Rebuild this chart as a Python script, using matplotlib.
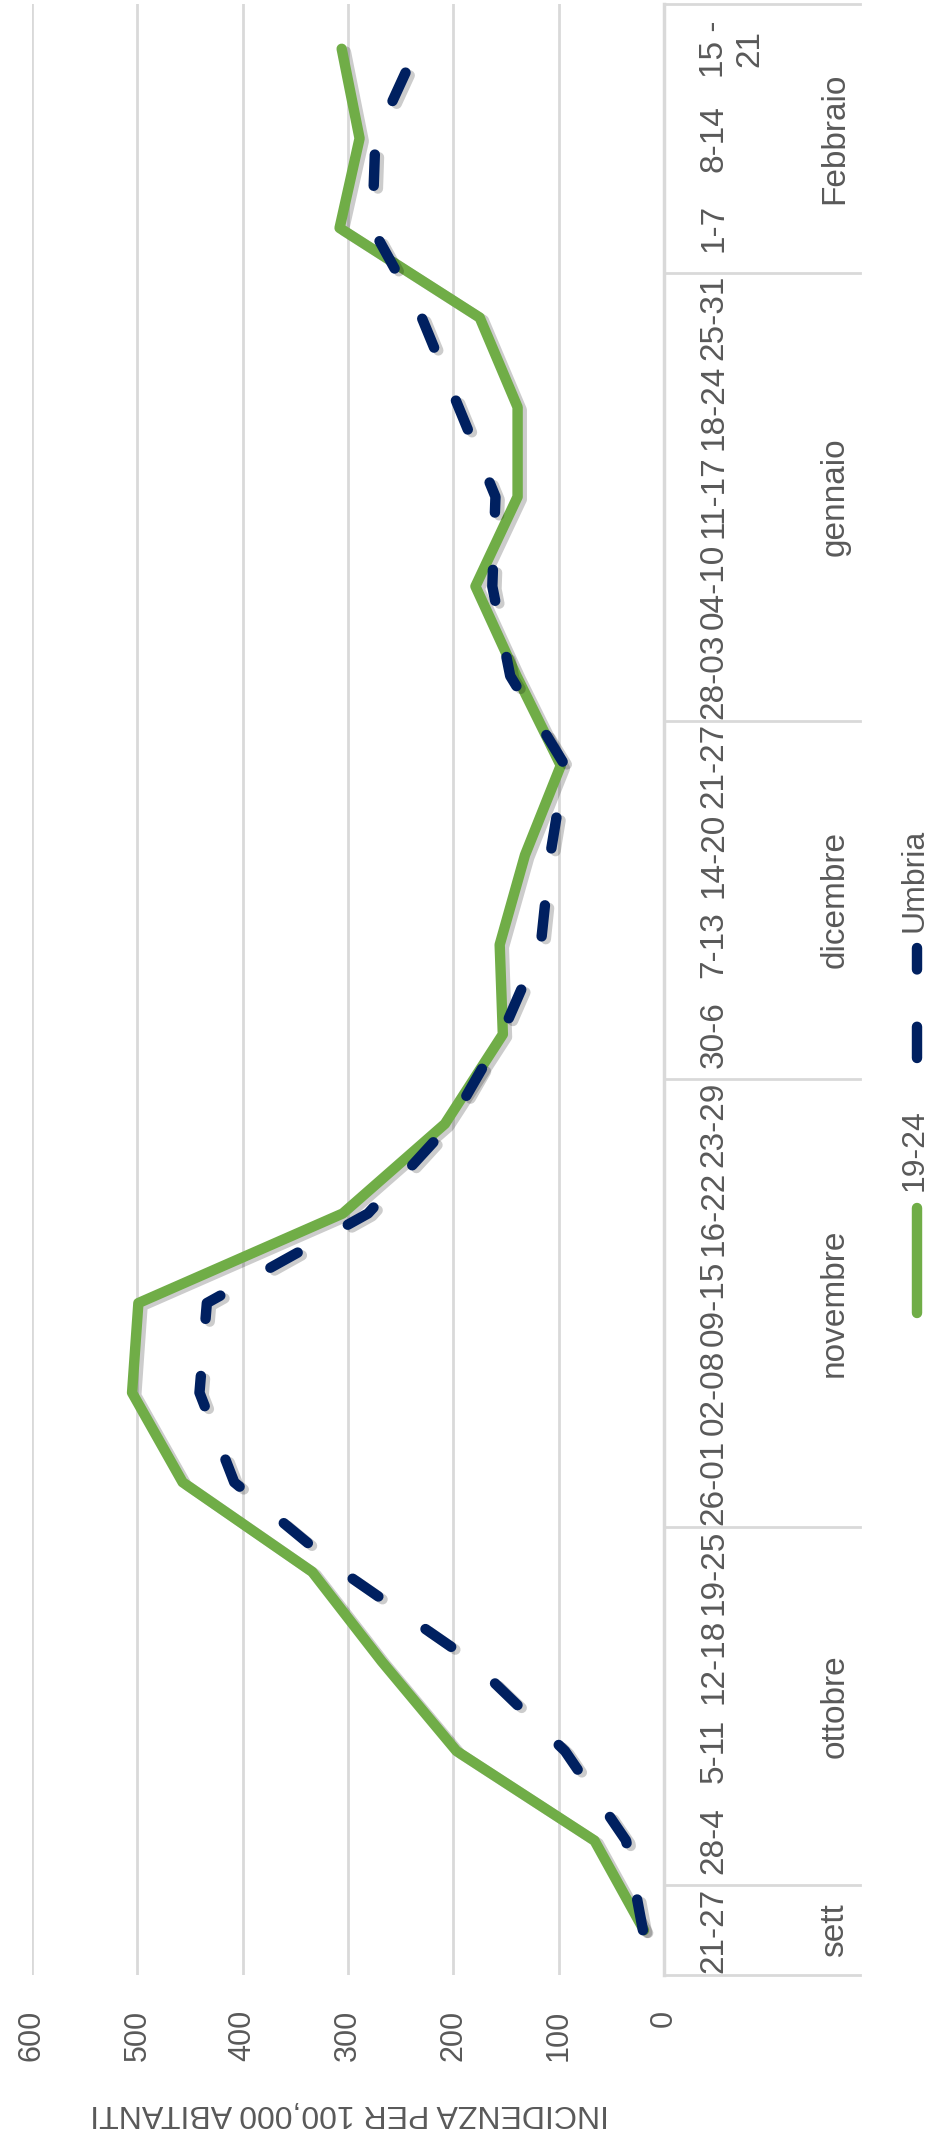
import matplotlib
matplotlib.use('Agg')
import matplotlib.pyplot as plt
import matplotlib.patheffects as pe
from matplotlib.lines import Line2D
import numpy as np

plt.rcParams['font.family'] = ['Liberation Sans', 'DejaVu Sans']

# settimane (categorie) e mesi
settimane = ['21-27', '28-4', '5-11', '12-18', '19-25',
             '26-01', '02-08', '09-15', '16-22', '23-29',
             '30-6', '7-13', '14-20', '21-27',
             '28-03', '04-10', '11-17', '18-24', '25-31',
             '1-7', '8-14', '15 -\n21']
mesi = ['sett', 'ottobre', 'novembre', 'dicembre', 'gennaio', 'Febbraio']
n_settimane = [1, 4, 5, 4, 5, 3]

# incidenza per 100.000 abitanti
fascia_19_24 = [19, 66, 197, 268, 334, 457, 505, 499, 305, 208, 153,
                156, 132, 98, 140, 179, 139, 139, 175, 308, 289, 306]
umbria = [20, 36, 94, 182, 305, 408, 441, 434, 281, 203, 154,
          117, 108, 94, 146, 163, 160, 195, 230, 277, 274, 235]
serie_nomi = ['19-24', 'Umbria']

VERDE = '#70ad47'
BLU = '#002060'
GRIGIO = '#d9d9d9'
TESTO = '#595959'

W, H = 937, 2146
fig = plt.figure(figsize=(W / 100, H / 100), dpi=100)
ax = fig.add_axes([32 / W, 1 - 1975 / H, (664 - 32) / W, (1975 - 4) / H])

y = np.arange(len(settimane))
ombra = [pe.SimpleLineShadow(offset=(3, -2), shadow_color='k', alpha=0.2), pe.Normal()]
ax.plot(fascia_19_24, y, color=VERDE, lw=7.5, solid_capstyle='round',
        solid_joinstyle='round', path_effects=ombra, zorder=3)
ax.plot(umbria, y, color=BLU, lw=7.5, ls=(0, (3.0, 5.5)), dash_capstyle='round',
        dash_joinstyle='round', path_effects=ombra, zorder=4)

ax.set_xlim(600, 0)
ax.set_ylim(-0.5, len(settimane) - 0.5)
ax.set_xticks(range(0, 601, 100))
ax.grid(axis='x', color=GRIGIO, lw=2)
ax.set_axisbelow(True)
for s in ['top', 'bottom', 'left']:
    ax.spines[s].set_visible(False)
ax.spines['right'].set_color(GRIGIO)
ax.spines['right'].set_linewidth(2.5)

ax.yaxis.tick_right()
ax.set_yticks(y)
ax.set_yticklabels(settimane, rotation=90, va='center', ha='left',
                   multialignment='center')
ax.tick_params(axis='y', length=0, pad=25, labelsize=24, labelcolor=TESTO)
ax.tick_params(axis='x', length=0, pad=25, labelsize=22, labelcolor=TESTO,
               labelrotation=90)

# etichette dei mesi e linee di separazione
bordi = np.concatenate([[0], np.cumsum(n_settimane)]) - 0.5
tr = ax.get_yaxis_transform()
for b in bordi:
    ax.plot([1, 1.31], [b, b], transform=tr, clip_on=False, color=GRIGIO, lw=2)
for m, a, b in zip(mesi, bordi[:-1], bordi[1:]):
    ax.text(1.27, (a + b) / 2, m, transform=tr, rotation=90, ha='center',
            va='center', fontsize=24, color=TESTO)

fig.text(350 / W, 1 - 2113 / H, 'INCIDENZA PER 100,000 ABITANTI', rotation=180,
         ha='center', va='center', fontsize=23, color=TESTO)

# legenda ruotata
fx = 917 / W
fig.add_artist(Line2D([fx, fx], [1 - 1313 / H, 1 - 1208 / H], transform=fig.transFigure,
                      color=VERDE, lw=7.5, solid_capstyle='round'))
fig.text(915 / W, 1 - 1150 / H, serie_nomi[0], rotation=90, ha='center', va='center',
         fontsize=23, color=TESTO)
fig.add_artist(Line2D([fx, fx], [1 - 1058 / H, 1 - 948 / H], transform=fig.transFigure,
                      color=BLU, lw=7.5, ls=(0, (3.0, 5.5)), dash_capstyle='round'))
fig.text(915 / W, 1 - 880 / H, serie_nomi[1], rotation=90, ha='center', va='center',
         fontsize=23, color=TESTO)

fig.savefig('out.png', dpi=100, facecolor='white')
